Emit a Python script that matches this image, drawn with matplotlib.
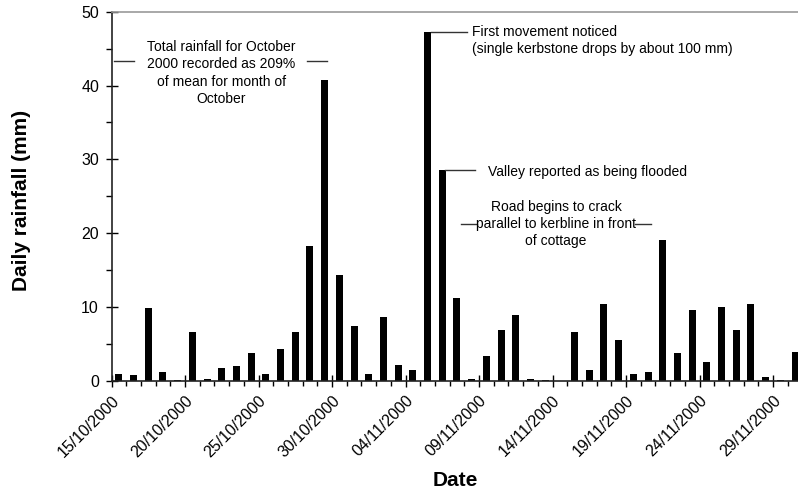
import matplotlib
matplotlib.use("Agg")
import matplotlib.pyplot as plt
import numpy as np

plt.rcParams['font.family'] = ['Liberation Sans', 'DejaVu Sans']

# Daily rainfall 15/10/2000 .. 30/11/2000 (mm)
rainfall = [1.0, 0.8, 9.9, 1.2, 0.15, 6.7, 0.25, 1.7, 2.05, 3.8,
            0.95, 4.4, 6.7, 18.3, 40.7, 14.4, 7.4, 0.9, 8.7, 2.2,
            1.55, 47.2, 28.5, 11.3, 0.25, 3.45, 6.85, 9.0, 0.3, 0.15,
            0.0, 6.7, 1.55, 10.4, 5.55, 0.9, 1.2, 19.1, 3.8, 9.6,
            2.6, 10.0, 6.9, 10.45, 0.5, 0.15, 3.95]
tick_labels = ['15/10/2000', '20/10/2000', '25/10/2000', '30/10/2000',
               '04/11/2000', '09/11/2000', '14/11/2000', '19/11/2000',
               '24/11/2000', '29/11/2000']
y_ticks = [0, 10, 20, 30, 40, 50]

W, H = 798, 497
fig = plt.figure(figsize=(W / 100, H / 100), dpi=100)
n = len(rainfall)
left_px, right_px = 111.5, 111.5 + 14.7 * n
top_px, bot_px = 11.7, 381.0
ax = fig.add_axes([left_px / W, 1 - bot_px / H, (right_px - left_px) / W,
                   (bot_px - top_px) / H])

x = np.arange(n)
ax.bar(x, rainfall, width=0.48, color='black', edgecolor='black', linewidth=0)

ax.set_xlim(-0.5, n - 0.5)
ax.set_ylim(0, 50)

# x ticks between categories
ax.set_xticks(np.arange(len(tick_labels)) * 5 - 0.5)
ax.set_xticklabels(tick_labels, rotation=45, ha='right', va='top',
                   rotation_mode='anchor', fontsize=11.5)
ax.set_xticks(np.arange(n + 1) - 0.5, minor=True)
ax.tick_params(axis='x', which='major', direction='inout', length=9, width=1,
               pad=4)
ax.tick_params(axis='x', which='minor', direction='out', length=3.5, width=1)

ax.set_yticks(y_ticks)
ax.set_yticklabels([str(v) for v in y_ticks], fontsize=11.5)
ax.set_yticks(np.arange(5, 50, 10), minor=True)
ax.tick_params(axis='y', which='major', direction='inout', length=8, width=1,
               pad=5)
ax.tick_params(axis='y', which='minor', direction='out', length=4, width=1)

for s in ['left', 'bottom']:
    ax.spines[s].set_color('#222222')
    ax.spines[s].set_linewidth(1.2)
ax.spines['right'].set_visible(False)
ax.spines['top'].set_color('#999999')
ax.spines['top'].set_linewidth(1.2)

fig.text(22 / W, 1 - 200 / H, 'Daily rainfall (mm)', rotation=90,
         fontsize=15, fontweight='bold', ha='center', va='center')
fig.text(455 / W, 1 - 481 / H, 'Date', fontsize=15, fontweight='bold',
         ha='center', va='center')

lc = '#333333'
fs = 10
ls = 1.3
# Annotation 1
ax.text(6.98, 41.7, 'Total rainfall for October\n2000 recorded as 209%\n'
        'of mean for month of\nOctober', ha='center', va='center',
        fontsize=fs, linespacing=ls)
ax.plot([-0.3, 1.06], [43.3, 43.3], color=lc, lw=1)
ax.plot([12.77, 14.13], [43.3, 43.3], color=lc, lw=1)
# Annotation 2
ax.plot([21.25, 23.7], [rainfall[21], rainfall[21]], color=lc, lw=1)
ax.text(24.03, 46.1, 'First movement noticed\n'
        '(single kerbstone drops by about 100 mm)', ha='left', va='center',
        fontsize=fs, linespacing=ls)
# Annotation 3
ax.plot([22.22, 24.26], [rainfall[22], rainfall[22]], color=lc, lw=1)
ax.text(25.08, 28.3, 'Valley reported as being flooded', ha='left',
        va='center', fontsize=fs)
# Annotation 4
ax.text(29.75, 21.26, 'Road begins to crack\nparallel to kerbline in front\n'
        'of cottage', ha='center', va='center', fontsize=fs, linespacing=ls)
ax.plot([23.29, 24.33], [21.26, 21.26], color=lc, lw=1)
ax.plot([35.08, 36.21], [21.26, 21.26], color=lc, lw=1)

fig.savefig('out.png', dpi=100)
